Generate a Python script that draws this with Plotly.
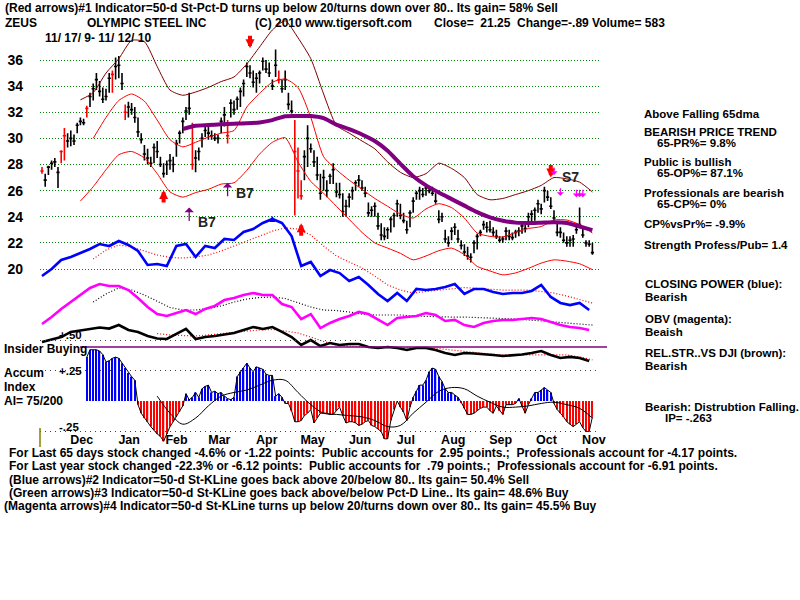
import pandas as pd
import plotly.graph_objects as go

# ---------------- data ----------------
START, END = "2009-11-17", "2010-11-12"

high = [27.8, 27.3, 27.9, 28.3, 28.5, 27.8, 29.1, 30.8, 30.4, 30.6,
        30.3, 31.2, 31.6, 31.5, 32.5, 33.5, 34.2, 35.0, 34.4, 33.9,
        33.8, 35.0, 35.2, 36.2, 36.3, 35.0, 32.6, 32.8, 32.7, 32.4,
        31.6, 30.4, 29.5, 29.2, 28.6, 29.6, 29.8, 28.6, 28.1, 28.3,
        28.8, 28.6, 29.9, 30.6, 31.6, 32.4, 33.5, 31.2, 29.1, 29.3,
        30.4, 30.9, 30.9, 30.6, 30.4, 30.3, 31.6, 32.4, 31.4, 33.0,
        32.9, 33.2, 33.9, 34.5, 35.8, 35.6, 35.2, 35.0, 35.2, 36.2,
        36.0, 35.8, 34.5, 36.8, 35.2, 34.5, 35.2, 33.5, 32.9, 31.4,
        29.3, 26.8, 29.1, 31.0, 29.6, 29.1, 28.6, 27.3, 27.6, 26.8,
        27.3, 28.1, 26.6, 26.6, 25.8, 25.3, 25.8, 26.3, 26.8, 27.2,
        26.8, 26.3, 25.1, 24.8, 25.1, 24.3, 23.5, 23.2, 23.2, 24.0,
        24.3, 25.3, 25.0, 24.3, 23.7, 24.5, 25.5, 26.0, 26.3, 26.2,
        26.4, 26.3, 26.3, 25.8, 24.5, 24.3, 23.0, 22.5, 23.2, 23.5,
        23.0, 22.2, 21.9, 21.7, 21.2, 22.2, 22.7, 23.0, 23.7, 23.6,
        23.7, 23.2, 23.0, 22.5, 22.5, 23.2, 23.0, 22.8, 23.0, 23.2,
        23.5, 23.4, 24.3, 24.5, 24.7, 25.3, 25.0, 26.3, 26.0, 25.5,
        24.5, 23.5, 23.2, 22.8, 22.5, 22.5, 22.6, 23.5, 24.7, 23.2,
        22.2, 22.2, 22.0]
low = [27.3, 26.3, 27.2, 27.6, 27.8, 26.2, 28.1, 28.3, 29.3, 29.4,
       29.5, 30.4, 31.0, 31.0, 31.6, 32.4, 32.9, 33.7, 33.2, 32.7,
       32.9, 33.5, 33.5, 34.5, 34.6, 33.7, 31.4, 31.6, 31.8, 31.2,
       30.1, 29.6, 28.3, 28.0, 27.8, 28.1, 28.5, 27.8, 27.0, 27.2,
       27.6, 27.4, 28.6, 29.6, 30.4, 31.4, 31.8, 27.6, 27.4, 28.3,
       29.3, 30.1, 29.9, 29.9, 29.8, 29.6, 30.4, 30.9, 29.6, 31.6,
       31.8, 32.2, 32.4, 33.2, 34.7, 34.6, 33.9, 33.5, 34.2, 35.2,
       35.0, 34.7, 33.7, 34.7, 34.2, 33.5, 33.7, 32.2, 31.9, 24.1,
       25.4, 25.3, 26.8, 27.8, 28.9, 27.8, 26.8, 25.3, 26.0, 25.5,
       26.5, 26.5, 25.5, 25.4, 24.0, 24.0, 24.7, 25.3, 26.0, 26.3,
       26.0, 25.5, 24.0, 24.0, 24.0, 23.0, 22.2, 22.2, 22.3, 22.8,
       23.2, 24.0, 23.8, 23.5, 22.7, 23.2, 24.3, 25.3, 25.3, 25.5,
       25.6, 25.8, 25.6, 25.0, 23.5, 23.6, 22.0, 21.7, 22.2, 22.6,
       22.0, 21.5, 21.0, 20.7, 20.5, 21.2, 21.5, 22.5, 23.0, 22.8,
       22.8, 22.5, 22.3, 22.0, 22.0, 22.2, 22.2, 22.2, 22.4, 22.5,
       22.7, 22.8, 23.2, 23.5, 23.7, 24.3, 24.2, 25.1, 25.2, 24.6,
       23.7, 22.5, 22.4, 22.0, 21.7, 21.7, 21.7, 22.7, 23.2, 22.4,
       21.7, 21.7, 21.1]
close = [27.5, 26.8, 27.8, 28.1, 28.2, 27.4, 29.0, 30.2, 29.8, 30.0,
         29.8, 31.0, 31.3, 31.2, 32.3, 33.2, 33.8, 34.5, 33.6, 33.0,
         33.2, 34.6, 34.9, 35.5, 35.6, 34.2, 32.0, 32.4, 32.2, 31.6,
         30.5, 29.9, 28.8, 28.5, 28.1, 29.3, 29.0, 28.0, 27.3, 28.0,
         28.3, 28.0, 29.6, 30.4, 31.3, 32.1, 32.3, 28.0, 28.5, 29.0,
         30.0, 30.6, 30.4, 30.2, 30.0, 30.0, 31.3, 31.8, 30.2, 32.7,
         32.2, 33.0, 33.6, 34.2, 35.5, 35.0, 34.3, 34.6, 35.0, 35.9,
         35.3, 35.0, 34.0, 35.6, 34.5, 33.8, 34.5, 32.6, 32.1, 29.0,
         27.5, 25.6, 28.6, 30.0, 29.2, 28.2, 27.2, 25.8, 27.0, 26.0,
         27.1, 27.6, 25.9, 25.7, 24.4, 24.8, 25.5, 26.0, 26.6, 26.8,
         26.2, 25.8, 24.3, 24.5, 24.8, 23.3, 22.6, 22.5, 23.0, 23.8,
         24.1, 25.0, 24.1, 23.7, 23.0, 24.3, 25.2, 25.8, 26.0, 25.7,
         26.2, 26.0, 25.8, 25.2, 23.8, 24.0, 22.3, 22.0, 22.9, 23.2,
         22.3, 21.8, 21.3, 21.0, 20.9, 22.0, 22.5, 22.8, 23.4, 23.2,
         23.0, 22.8, 22.5, 22.2, 22.3, 22.9, 22.5, 22.4, 22.8, 22.9,
         23.3, 23.1, 24.0, 24.2, 24.5, 25.0, 24.6, 26.0, 25.5, 24.8,
         23.9, 22.8, 22.8, 22.2, 22.0, 22.2, 22.3, 23.0, 23.4, 22.6,
         22.0, 21.9, 21.25]
red_bar_days = [0, 6, 7, 14, 22, 26, 47, 58, 74, 79, 80, 81]

# accumulation index, one value per bar (starts on bar 14)
accum = [None] * 14 + [
    0.36, 0.42, 0.42, 0.42, 0.41, 0.38, 0.32, 0.33, 0.35, 0.36,
    0.35, 0.31, 0.27, 0.23, 0.20, 0.17, -0.03, -0.10, -0.14, -0.17,
    -0.21, -0.24, -0.27, -0.29, -0.33, -0.27, -0.21, -0.17, -0.13, -0.09,
    -0.04, 0.06, 0.01, 0.03, 0.07, 0.03, 0.10, 0.12, 0.13, 0.07,
    0.08, 0.06, 0.07, 0.04, 0.02, 0.01, 0.03, 0.20, 0.24, 0.27,
    0.31, 0.27, 0.24, 0.28, 0.27, 0.26, 0.22, 0.21, 0.21, 0.04,
    0.06, 0.03, -0.02, -0.02, -0.08, -0.17, -0.17, -0.16, -0.12, -0.10,
    -0.07, -0.18, -0.14, -0.10, -0.10, -0.10, -0.11, -0.11, -0.08, -0.05,
    -0.12, -0.18, -0.17, -0.17, -0.18, -0.20, -0.19, -0.17, -0.16, -0.20,
    -0.21, -0.23, -0.25, -0.31, -0.31, -0.16, -0.07, 0.00, -0.05, -0.09,
    -0.16, -0.05, 0.03, 0.08, 0.13, 0.13, 0.17, 0.24, 0.27, 0.26,
    0.20, 0.16, 0.10, 0.07, 0.07, 0.05, 0.03, -0.01, -0.06, -0.11,
    -0.11, -0.10, -0.08, -0.06, -0.05, -0.05, -0.08, -0.10, -0.04, -0.08,
    -0.11, -0.03, -0.03, -0.03, -0.02, 0.02, -0.04, -0.10, -0.03, 0.02,
    0.07, 0.07, 0.09, 0.11, 0.09, 0.07, -0.02, -0.07, -0.10, -0.13,
    -0.17, -0.19, -0.21, -0.19, -0.17, -0.22, -0.25, -0.25, -0.13]

# slow lines, sampled on every 4th bar
upper_band = [None] * 3 + [
    32.95, 33.5, 35.0, 36.1, 37.5, 37.4, 35.5, 33.7, 33.3, 33.55,
    33.9, 34.35, 34.7, 35.7, 37.0, 38.3, 39.0, 37.7, 36.1, 33.4,
    31.0, 30.4, 29.8, 29.2, 28.2, 27.4, 27.0, 27.3, 28.1, 27.7,
    27.0, 25.7, 25.3, 25.4, 25.7, 26.0, 26.4, 27.0, 26.9, 26.65, 25.9]
mid_band = [None] * 4 + [
    30.0, 31.6, 32.9, 33.4, 32.85, 31.4, 29.9, 29.35, 29.7, 30.1,
    30.4, 30.6, 32.4, 33.45, 34.3, 34.55, 33.9, 31.6, 28.6, 27.6,
    26.8, 26.1, 25.4, 24.8, 24.2, 23.9, 24.6, 25.0, 24.7, 23.9,
    22.75, 22.5, 22.45, 22.8, 23.1, 23.25, 23.75, 23.75, 23.4, 22.75]
lower_band = [None] * 3 + [
    25.2, 26.3, 27.6, 28.75, 29.0, 28.5, 27.3, 25.9, 25.5, 25.85,
    26.1, 26.5, 26.6, 27.55, 28.8, 29.7, 30.05, 28.2, 26.7, 25.8,
    24.8, 23.8, 22.8, 22.0, 21.6, 21.2, 20.7, 21.0, 21.4, 21.6,
    21.1, 20.2, 19.85, 19.55, 19.7, 20.05, 20.45, 20.7, 20.6, 20.4, 19.95]
ma65 = [None] * 11 + [
    30.72, 30.97, 31.02, 31.08, 31.12, 31.15, 31.22, 31.4, 31.7, 31.72,
    31.71, 31.55, 31.05, 30.7, 30.3, 29.8, 29.05, 28.05, 27.1, 26.4,
    25.85, 25.35, 24.85, 24.35, 23.95, 23.7, 23.55, 23.52, 23.55, 23.58,
    23.52, 23.25, 22.98]
cp_ma = [None] * 4 + [
    20.77, 21.45, 21.84, 21.68, 21.38, 21.07, 20.88, 20.84, 20.92, 21.07,
    21.38, 21.76, 22.14, 22.52, 22.9, 23.14, 23.06, 22.6, 21.76, 21.0,
    20.54, 20.08, 19.46, 18.78, 18.39, 18.16, 18.28, 18.39, 18.51, 18.58,
    18.51, 18.43, 18.39, 18.39, 18.39, 18.28, 18.16, 17.93, 17.67, 17.4]
obv_ma = [None] * 4 + [
    17.47, 18.09, 18.55, 18.39, 18.01, 17.55, 17.05, 16.86, 16.86, 16.98,
    17.17, 17.47, 17.7, 17.82, 17.85, 17.74, 17.43, 17.09, 16.86, 16.82,
    16.71, 16.55, 16.48, 16.48, 16.48, 16.4, 16.36, 16.32, 16.32, 16.32,
    16.29, 16.25, 16.25, 16.17, 16.1, 16.02, 15.94, 15.87, 15.79, 15.71]
rs_ma = [None] * 9 + [
    15.06, 14.95, 14.91, 14.87, 14.95, 15.06, 15.18, 15.25, 15.33, 15.37,
    15.25, 15.1, 14.79, 14.45, 14.18, 14.1, 14.03, 14.03, 13.99, 13.99,
    13.95, 13.95, 13.91, 13.8, 13.68, 13.57, 13.49, 13.42, 13.42, 13.42,
    13.42, 13.42, 13.42, 13.27, 13.04]
accum_ma = [None] * 9 + [
    0.04, -0.10, -0.19, -0.14, -0.04, 0.04, 0.07, 0.09, 0.13, 0.17,
    0.17, 0.07, -0.03, -0.10, -0.11, -0.12, -0.13, -0.16, -0.21, -0.20,
    -0.10, -0.01, 0.08, 0.11, 0.10, 0.04, -0.01, -0.05, -0.05, -0.04,
    -0.02, -0.01, -0.03, -0.06, -0.14]

# indicator lines, sampled on every 3rd bar (drawn in price-panel units)
closing_power = [
    19.46, 20.0, 20.69, 20.92, 21.22, 21.53, 21.91, 21.76, 22.14, 21.84,
    21.38, 20.31, 20.38, 20.23, 21.76, 21.91, 20.92, 21.76, 21.61, 22.3,
    22.22, 22.83, 23.06, 23.52, 23.83, 23.52, 22.52, 20.23, 20.54, 19.46,
    19.92, 19.69, 19.08, 19.39, 18.78, 18.09, 17.55, 18.16, 17.55, 18.47,
    18.39, 18.47, 18.62, 18.85, 18.09, 18.47, 18.47, 18.24, 18.09, 18.16,
    18.16, 18.32, 18.78, 17.86, 17.4, 17.24, 17.4, 16.86]
obv = [
    15.79, 16.32, 16.94, 17.47, 18.01, 18.55, 18.85, 18.7, 18.7, 18.39,
    17.78, 17.09, 16.55, 16.4, 16.63, 16.86, 16.55, 16.94, 17.17, 17.62,
    17.78, 18.01, 18.16, 18.01, 18.01, 17.32, 17.09, 16.17, 16.55, 15.48,
    15.87, 16.17, 16.4, 16.71, 16.55, 16.1, 15.71, 16.25, 16.32, 16.4,
    16.63, 16.48, 16.02, 16.1, 15.71, 15.56, 15.87, 16.02, 16.1, 16.1,
    16.17, 16.25, 16.17, 15.94, 15.71, 15.56, 15.48, 15.33]
rel_strength = [
    14.41, 14.6, 14.79, 15.18, 15.29, 15.41, 15.52, 15.44, 15.71, 15.33,
    15.18, 14.87, 14.68, 14.64, 15.02, 15.41, 14.64, 14.79, 14.87, 14.99,
    15.1, 15.33, 15.56, 15.41, 15.56, 15.18, 14.79, 14.18, 14.56, 14.1,
    14.33, 14.18, 14.26, 14.26, 14.03, 13.95, 14.03, 13.95, 13.8, 13.95,
    13.95, 13.8, 13.57, 13.42, 13.57, 13.53, 13.49, 13.42, 13.34, 13.38,
    13.45, 13.57, 13.72, 13.42, 13.19, 13.27, 13.19, 12.96]

# signals: (bar number, price at arrow tip)
red_up_signals = [(38, 26.05), (81, 23.5)]
red_down_signals = [(65, 36.9), (159, 27.0)]
magenta_down_signals = [(160, 27.2), (162, 25.6), (167, 25.5), (168, 25.5), (169, 25.5)]
buy7_signals = [(46, 24.7), (58, 26.6)]
buy7_labels = [(48, 23.6), (60, 25.8)]
sell7_label = (162, 27.05)
blue_up_signals = [(72, 24.06)]

price_ticks = [20, 22, 24, 26, 28, 30, 32, 34, 36]
accum_ticks = [-0.25, 0.25, 0.5]
accum_tick_text = ["-.25", "+.25", "+.50"]
month_ticks = ["2009-12-13", "2010-01-13", "2010-02-13", "2010-03-13", "2010-04-13",
               "2010-05-13", "2010-06-13", "2010-07-13", "2010-08-13", "2010-09-13",
               "2010-10-13", "2010-11-13"]
month_labels = ["Dec", "Jan", "Feb", "Mar", "Apr", "May", "Jun", "Jul", "Aug", "Sep", "Oct", "Nov"]

# ---------------- figure ----------------
N = len(close)
assert len(high) == N and len(low) == N and len(accum) == N
dates = pd.date_range(START, END, periods=N)
d4 = dates[::4]
d3 = dates[::3]
for s in (upper_band, mid_band, lower_band, ma65, cp_ma, obv_ma, rs_ma, accum_ma):
    assert len(s) == len(d4), len(s)
for s in (closing_power, obv, rel_strength):
    assert len(s) == len(d3), len(s)

W, H, L, R = 800, 600, 40, 200
PW = W - L - R
FONT = "Liberation Sans, Arial, Helvetica, sans-serif"
TXT = 12
DOTS = "1px,2px"


def px(x, y):
    return (x - L) / PW, 1 - y / H


fig = go.Figure()

line_specs = [
    (upper_band, "#800000", 1),
    (mid_band, "#FF0000", 1),
    (lower_band, "#FF0000", 1),
    (ma65, "#800080", 4),
]
for vals, col, wid in line_specs:
    fig.add_trace(go.Scatter(x=d4, y=vals, mode="lines",
                             line=dict(color=col, width=wid, shape="spline", smoothing=0.6),
                             hoverinfo="skip"))

red_set = set(red_bar_days)
for sel, col in (([k for k in range(N) if k not in red_set], "black"), (sorted(red_set), "#FF0000")):
    fig.add_trace(go.Ohlc(x=[dates[k] for k in sel], open=[close[k] for k in sel], high=[high[k] for k in sel],
                          low=[low[k] for k in sel], close=[close[k] for k in sel],
                          increasing=dict(line=dict(color=col, width=1.6)),
                          decreasing=dict(line=dict(color=col, width=1.6)),
                          tickwidth=0.5, hoverinfo="skip"))

ind_specs = [
    (d4, cp_ma, "#FF0000", 1.2, DOTS),
    (d3, closing_power, "#0000FF", 2.6, "solid"),
    (d4, obv_ma, "black", 1.2, DOTS),
    (d3, obv, "#FF00FF", 2.6, "solid"),
    (d4, rs_ma, "#FF0000", 1.2, DOTS),
    (d3, rel_strength, "black", 2.6, "solid"),
]
for xs, vals, col, wid, dash in ind_specs:
    fig.add_trace(go.Scatter(x=xs, y=vals, mode="lines", line=dict(color=col, width=wid, dash=dash),
                             hoverinfo="skip"))

spacing_ms = (dates[1] - dates[0]).total_seconds() * 1000
fig.add_trace(go.Bar(x=dates, y=accum, yaxis="y2", width=spacing_ms * 0.4,
                     marker=dict(color=["#0000FF" if (v is not None and v > 0) else "#FF0000" for v in accum],
                                 line=dict(width=0)),
                     hoverinfo="skip"))
fig.add_trace(go.Scatter(x=dates, y=accum, yaxis="y2", mode="lines", line=dict(color="black", width=1),
                         hoverinfo="skip"))
fig.add_trace(go.Scatter(x=d4, y=accum_ma, yaxis="y2", mode="lines", line=dict(color="black", width=1, shape="spline"),
                         hoverinfo="skip"))

ann = []


def arrow(k, price, color, ay, width, size=1.0, head=2):
    ann.append(dict(x=dates[k], y=price, xref="x", yref="y", text="", showarrow=True, arrowhead=head,
                    arrowsize=size, arrowwidth=width, arrowcolor=color, ax=0, ay=ay))


for k, p in red_up_signals:
    arrow(k, p, "#FF0000", 14, 4, 0.45)
for k, p in red_down_signals:
    arrow(k, p, "#FF0000", -14, 4, 0.45)
for k, p in magenta_down_signals:
    arrow(k, p, "#FF00FF", -9, 1.2, 1.0, 1)
for k, p in buy7_signals:
    arrow(k, p, "#800080", 15, 1.3, 1.2, 1)
for k, p in blue_up_signals:
    arrow(k, p, "#0000FF", 6, 2, 0.6)
for k, p in buy7_labels:
    ann.append(dict(x=dates[k], y=p, xref="x", yref="y", text="B7", showarrow=False, xanchor="left",
                    yanchor="middle", font=dict(family=FONT, size=14, color="#222222", weight="bold")))
ann.append(dict(x=dates[sell7_label[0]], y=sell7_label[1], xref="x", yref="y", text="S7", showarrow=False,
                xanchor="left", yanchor="middle", font=dict(family=FONT, size=14, color="#222222", weight="bold")))

# accumulation-index scale labels, placed on the y2 scale just inside the panel
ax_label_x, _ = px(57, 0)
for v, t in zip(accum_ticks, accum_tick_text):
    shift = 5 if (v > 0.4 or v < 0) else 0
    ann.append(dict(x=ax_label_x, y=v, xref="paper", yref="y2", text=t, showarrow=False, xanchor="left",
                    yanchor="middle", yshift=shift,
                    font=dict(family=FONT, size=11.5, color="black", weight="bold")))


def note(x, y, text, size=TXT):
    xp, yp = px(x, y)
    ann.append(dict(x=xp, y=yp, xref="paper", yref="paper", text=text.replace("  ", "\u00a0 "), showarrow=False,
                    xanchor="left", yanchor="middle",
                    font=dict(family=FONT, size=size, color="black", weight="bold")))


note(3, 8, "(Red arrows)#1 Indicator=50-d St-Pct-D turns up below 20/turns down over 80.. Its gain= 58% Sell")
note(3, 23, "ZEUS")
note(85, 23, "OLYMPIC STEEL INC")
note(253, 23, "(C) 2010 www.tigersoft.com")
note(432, 23, "Close=  21.25  Change=-.89 Volume= 583")
note(43, 38, "11/ 17/ 9- 11/ 12/ 10")

right = [(642, 114, "Above Falling 65dma"), (642, 132, "BEARISH PRICE TREND"), (655, 143, "65-PR%= 9.8%"),
         (642, 162, "Public is bullish"), (655, 173, "65-OP%= 87.1%"), (642, 193, "Professionals are bearish"),
         (655, 204, "65-CP%= 0%"), (642, 224, "CP%vsPr%= -9.9%"), (642, 245, "Strength Profess/Pub= 1.4"),
         (643, 284, "CLOSING POWER (blue):"), (643, 297, "Bearish"), (643, 319, "OBV (magenta):"),
         (643, 332, "Beaish"), (643, 353, "REL.STR..VS DJI (brown):"), (643, 366, "Bearish"),
         (643, 407, "Bearish: Distrubtion Falling."), (663, 418, "IP= -.263")]
for x, y, t in right:
    note(x, y, t, 11.5)

note(2, 349, "Insider Buying")
note(2, 373, "Accum")
note(2, 387, "Index")
note(2, 401, "AI= 75/200")

bottom = [(7, 453, "For Last 65 days stock changed -4.6% or -1.22 points:  Public accounts for  2.95 points.;  Professionals account for -4.17 points."),
          (7, 466, "For Last year stock changed -22.3% or -6.12 points:  Public accounts for  .79 points.;  Professionals account for -6.91 points."),
          (7, 480, "(Blue arrows)#2 Indicator=50-d St-KLine goes back above 20/below 80.. Its gain= 50.4% Sell"),
          (7, 493, "(Green arrows)#3 Indicator=50-d St-KLine goes back above/below Pct-D Line.. Its gain= 48.6% Buy"),
          (2, 506, "(Magenta arrows)#4 Indicator=50-d St-KLine turns up below 20/turns down over 80.. Its gain= 45.5% Buy")]
for x, y, t in bottom:
    note(x, y, t)

# x range so that first bar sits at px 42 and last at px 592
ms_per_px = (dates[-1] - dates[0]) / (592.4 - 42)
xr = [dates[0] - ms_per_px * (42 - L), dates[-1] + ms_per_px * (L + PW - 592.4)]

# price panel pixel geometry: 36 -> y 60, 20 -> y 269
ppu = (269 - 60) / 16.0
p_top_px, p_bot_px = 10, 372
yr = [36 - (p_bot_px - 60) / ppu, 36 + (60 - p_top_px) / ppu]
# accumulation panel: 0 -> y 401, 0.25 per 30.5 px
apu = 122.0
a_top_px, a_bot_px = 330, 447
yr2 = [(401 - a_bot_px) / apu, (401 - a_top_px) / apu]
month_axis_px = 430

x0p, _ = px(80, 0)
x1p, _ = px(607, 0)
shapes = [dict(type="line", xref="paper", yref="y2", x0=x0p, x1=x1p, y0=(401 - 347) / apu, y1=(401 - 347) / apu,
               line=dict(color="#800080", width=1.5)),
          dict(type="line", xref="paper", yref="paper", x0=0, x1=0, y0=1 - 447 / H, y1=1 - 428 / H,
               line=dict(color="#808000", width=1.5))]

fig.update_layout(
    width=W, height=H, margin=dict(l=L, r=R, t=0, b=0),
    paper_bgcolor="white", plot_bgcolor="rgba(0,0,0,0)", showlegend=False,
    font=dict(family=FONT, color="black"),
    xaxis=dict(type="date", range=xr, anchor="free", position=1 - month_axis_px / H,
               tickvals=month_ticks, ticktext=month_labels,
               tickfont=dict(size=12.5, weight="bold", family=FONT), showgrid=False, zeroline=False, showline=False,
               ticks="", ticklabelstandoff=0, rangeslider=dict(visible=False)),
    yaxis=dict(domain=[1 - p_bot_px / H, 1 - p_top_px / H], range=yr, tickvals=price_ticks,
               tickfont=dict(size=14, weight="bold", family=FONT), showgrid=True, gridcolor="#008000",
               griddash=DOTS, gridwidth=1, zeroline=False, showline=False, ticks="", ticklabelstandoff=16),
    yaxis2=dict(domain=[1 - a_bot_px / H, 1 - a_top_px / H], range=yr2, anchor="x", tickvals=accum_ticks,
                showticklabels=False, showgrid=True, gridcolor="#404040",
                griddash="1px,4px", gridwidth=1, zeroline=False, showline=False, ticks=""),
    annotations=ann, shapes=shapes,
)

fig.write_html("out.html")
